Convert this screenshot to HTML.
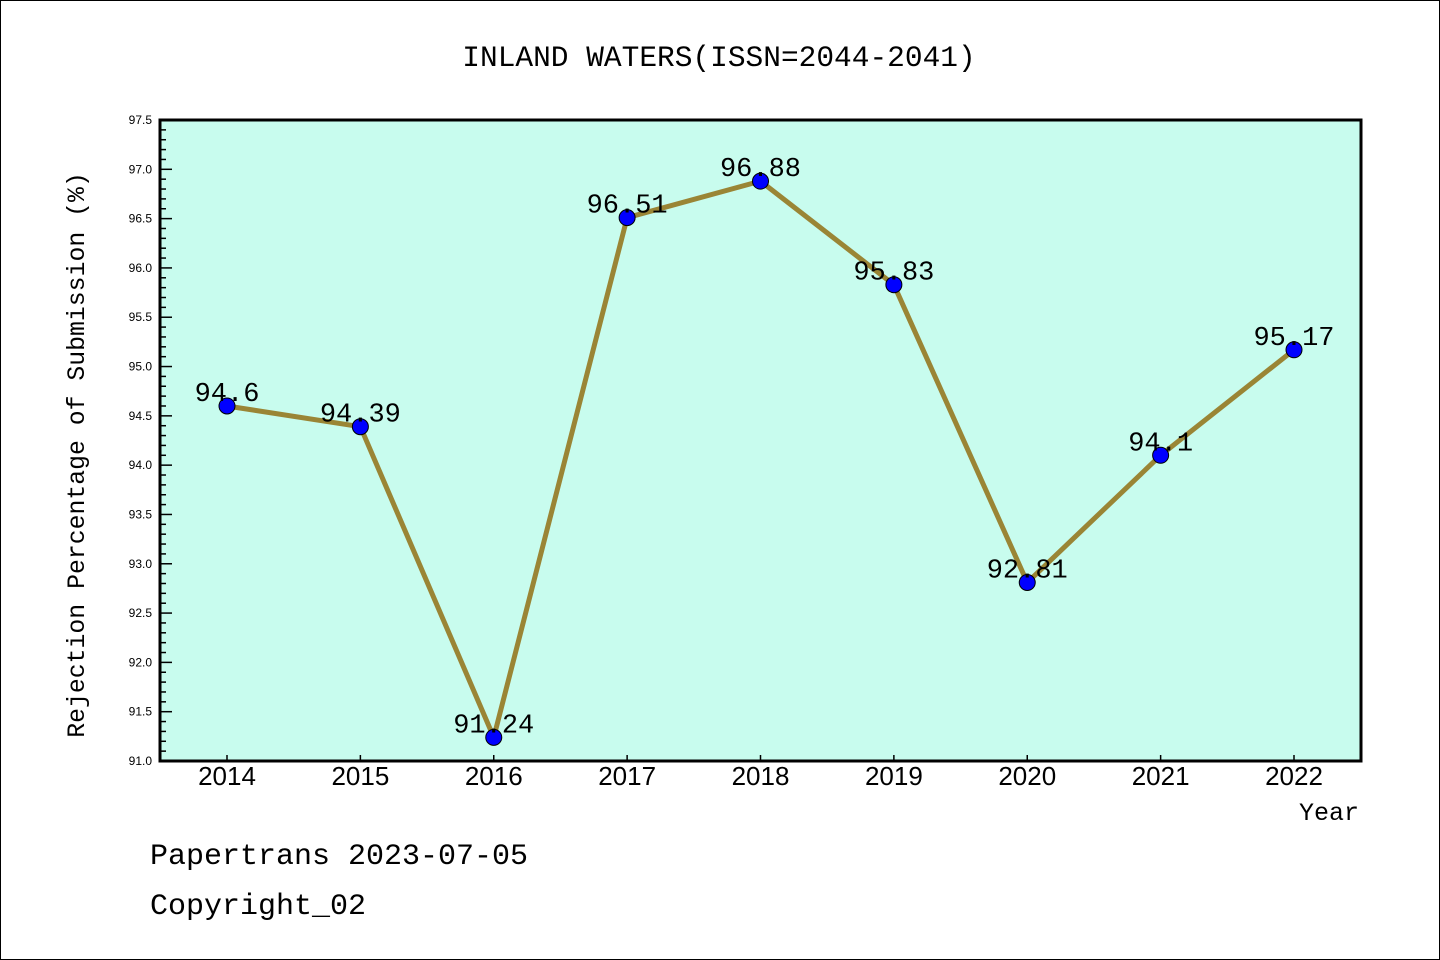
<!DOCTYPE html>
<html><head><meta charset="utf-8"><style>
html,body{margin:0;padding:0;background:#fff;}
svg{display:block;}
</style></head><body>
<svg id="chart" width="1440" height="960" xmlns="http://www.w3.org/2000/svg">
<rect x="0.5" y="0.5" width="1439" height="959" fill="#fff" stroke="#000" stroke-width="1"/>
<text x="719" y="66" text-anchor="middle" font-family="Liberation Mono, monospace" font-size="29.5" fill="#000">INLAND WATERS(ISSN=2044-2041)</text>
<rect x="160" y="120" width="1201" height="641" fill="#c8fcee"/>
<g id="axes"></g>
<g id="series"></g>
<rect x="160" y="120" width="1201" height="641" fill="none" stroke="#000" stroke-width="3"/>
<text transform="translate(84,455) rotate(-90)" text-anchor="middle" font-family="Liberation Mono, monospace" font-size="24.8" fill="#000">Rejection Percentage of Submission (%)</text>
<text x="1359" y="820" text-anchor="end" font-family="Liberation Mono, monospace" font-size="25" fill="#000">Year</text>
<text x="150" y="864" font-family="Liberation Mono, monospace" font-size="30" fill="#000">Papertrans 2023-07-05</text>
<text x="150" y="914" font-family="Liberation Mono, monospace" font-size="30" fill="#000">Copyright_02</text>
</svg>
<script>
const years = ["2014","2015","2016","2017","2018","2019","2020","2021","2022"];
const rates = [94.6, 94.39, 91.24, 96.51, 96.88, 95.83, 92.81, 94.1, 95.17];
const valueLabels = ["94.6","94.39","91.24","96.51","96.88","95.83","92.81","94.1","95.17"];
const yTicks = ["91.0","91.5","92.0","92.5","93.0","93.5","94.0","94.5","95.0","95.5","96.0","96.5","97.0","97.5"];
const NS = "http://www.w3.org/2000/svg";
const yMin = 91.0, yMax = 97.5, plotTop = 120, plotBottom = 761;
function yS(v){ return plotBottom - (v - yMin) / (yMax - yMin) * (plotBottom - plotTop); }
function xS(i){ return 227 + i * (1294 - 227) / (years.length - 1); }
function mk(tag, attrs, parent){ const e = document.createElementNS(NS, tag); for (const k in attrs) e.setAttribute(k, attrs[k]); parent.appendChild(e); return e; }
const axesG = document.getElementById('axes');
const seriesG = document.getElementById('series');
for (let k = 0; k <= 65; k++) {
  const v = yMin + k * 0.1;
  const y = yS(v);
  const major = (k % 5) === 0;
  const t = mk('line', {x1:160, x2:160 + (major ? 12 : 6), y1:y, y2:y, stroke:'#000', 'stroke-width':1.5}, axesG);
  
  
}
yTicks.forEach(s => {
  const y = yS(parseFloat(s));
  const t = mk('text', {x:152, y:y+4, 'text-anchor':'end', 'font-family':'Liberation Sans, sans-serif', 'font-size':12, fill:'#000'}, axesG);
  t.textContent = s;
  
  
});
years.forEach((yr, i) => {
  const x = xS(i);
  const t = mk('line', {x1:x, x2:x, y1:761, y2:755, stroke:'#000', 'stroke-width':1.5}, axesG);
  
  
  const l = mk('text', {x:x, y:785, 'text-anchor':'middle', 'font-family':'Liberation Sans, sans-serif', 'font-size':26, fill:'#000'}, axesG);
  l.textContent = yr;
  
  
});
const pts = rates.map((v, i) => xS(i) + ',' + yS(v)).join(' ');
const line = mk('polyline', {points:pts, fill:'none', stroke:'#9a8535', 'stroke-width':5, 'stroke-linejoin':'round'}, seriesG);


rates.forEach((v, i) => {
  const c = mk('circle', {cx:xS(i), cy:yS(v), r:8, fill:'#0000ff', stroke:'#000', 'stroke-width':1}, seriesG);
  
  
});
rates.forEach((v, i) => {
  const t = mk('text', {x:xS(i), y:yS(v) - 5, 'text-anchor':'middle', 'font-family':'Liberation Mono, monospace', 'font-size':27, fill:'#000'}, seriesG);
  t.textContent = valueLabels[i];
  
  
});
</script>
</body></html>
